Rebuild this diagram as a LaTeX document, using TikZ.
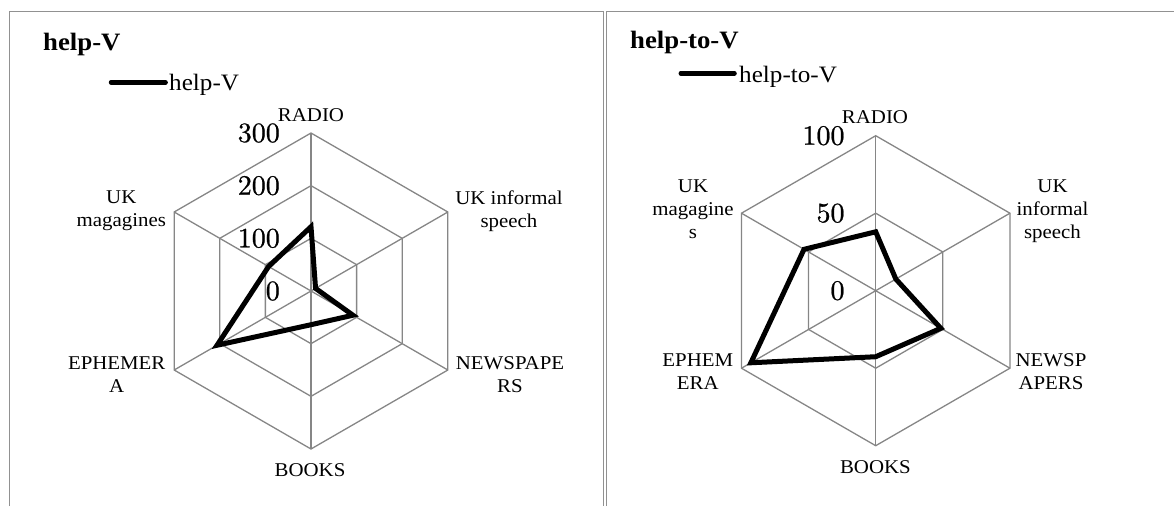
\documentclass[tikz,border=0pt]{standalone}
\usepackage{fontspec}
\newfontfamily\labfont{Liberation Serif}[FakeStretch=1.07]
\newfontfamily\numfont{lmroman10-regular.otf}[FakeBold=0.8]
\usetikzlibrary{positioning}
\definecolor{gridgray}{RGB}{134,134,134}
\definecolor{framegray}{RGB}{145,145,145}
\tikzset{
  frame/.style={draw=framegray,line width=1.6pt},
  ring/.style={draw=gridgray,line width=1.3pt},
  series/.style={draw=black,line width=5pt,line join=miter},
  legkey/.style={draw=black,line width=4.5pt,line cap=round},
  axlab/.style={font=\labfont\fontsize{19.5}{23}\selectfont,align=center,inner sep=0pt},
  ticklab/.style={font=\numfont\fontsize{28}{30}\selectfont,anchor=east,inner sep=0pt},
  charttitle/.style={font=\labfont\bfseries\fontsize{25}{28}\selectfont,anchor=base west,inner sep=0pt},
  legtext/.style={font=\labfont\fontsize{23.5}{26}\selectfont,anchor=base west,inner sep=0pt}
}

\begin{document}
\begin{tikzpicture}[x=1pt,y=-1pt]
\useasboundingbox (0,0) rectangle (1174,506);
% panel frames
\draw[frame] (9.5,506) -- (9.5,11.5) -- (603.5,11.5) -- (603.5,506);
\draw[frame] (606.5,506) -- (606.5,11.5) -- (1174,11.5);

% ---- help-V ----
\node[charttitle] (hvTitle) at (43,50) {help-V};
\coordinate (hvKeyA) at (111,82.3);
\coordinate (hvKeyB) at (165.6,82.3);
\draw[legkey] (hvKeyA) -- (hvKeyB);
\node[legtext] (hvLegend) at (169,90.2) {help-V};

\begin{scope}[shift={(311,291)},yscale=-1]
  \foreach \r in {52.67,105.33,158}
    \draw[ring] (90:\r) -- (30:\r) -- (-30:\r) -- (-90:\r) -- (210:\r) -- (150:\r) -- cycle;
  \foreach \a in {90,30,-30,-90,210,150}
    \draw[ring] (0,0) -- (\a:158);
  \node[ticklab] (hvT0) at (-31,0) {0};
  \node[ticklab] (hvT1) at (-31,52.67) {100};
  \node[ticklab] (hvT2) at (-31,105.33) {200};
  \node[ticklab] (hvT3) at (-31,158) {300};
  % data
  \coordinate (hvRadio) at (90:{122/300*158});
  \coordinate (hvSpeech) at (30:{10/300*158});
  \coordinate (hvNews) at (-30:{92/300*158});
  \coordinate (hvBooks) at (-90:{64/300*158});
  \coordinate (hvEphem) at (210:{206/300*158});
  \coordinate (hvMags) at (150:{93/300*158});
  \draw[series] (hvRadio) -- (hvSpeech) -- (hvNews) -- (hvBooks) -- (hvEphem) -- (hvMags) -- cycle;
\end{scope}

\node[axlab] (hvLRadio) at (311,115.5) {RADIO};
\node[axlab] (hvLSpeech) at (509,211) {UK informal\\speech};
\node[axlab] (hvLNews) at (510,374.4) {NEWSPAPE\\RS};
\node[axlab] (hvLBooks) at (310,470) {BOOKS};
\node[axlab] (hvLEphem) at (116.7,374.4) {EPHEMER\\A};
\node[axlab] (hvLMags) at (121.3,211.2) {UK\\magagines};

% ---- help-to-V ----
\node[charttitle] (htvTitle) at (630,48.5) {help-to-V};
\coordinate (htvKeyA) at (680.8,73.3);
\coordinate (htvKeyB) at (734.5,73.3);
\draw[legkey] (htvKeyA) -- (htvKeyB);
\node[legtext] (htvLegend) at (739,82) {help-to-V};

\begin{scope}[shift={(875.7,290.7)},yscale=-1]
  \foreach \r in {77.5,155}
    \draw[ring] (90:\r) -- (30:\r) -- (-30:\r) -- (-90:\r) -- (210:\r) -- (150:\r) -- cycle;
  \foreach \a in {90,30,-30,-90,210,150}
    \draw[ring] (0,0) -- (\a:155);
  \node[ticklab] (htvT0) at (-31,0) {0};
  \node[ticklab] (htvT1) at (-31,77.5) {50};
  \node[ticklab] (htvT2) at (-31,155) {100};
  % data
  \coordinate (htvRadio) at (90:{38*1.55});
  \coordinate (htvSpeech) at (30:{15*1.55});
  \coordinate (htvNews) at (-30:{48.5*1.55});
  \coordinate (htvBooks) at (-90:{42.6*1.55});
  \coordinate (htvEphem) at (210:{93*1.55});
  \coordinate (htvMags) at (150:{53.4*1.55});
  \draw[series] (htvRadio) -- (htvSpeech) -- (htvNews) -- (htvBooks) -- (htvEphem) -- (htvMags) -- cycle;
\end{scope}

\node[axlab] (htvLRadio) at (875,116.7) {RADIO};
\node[axlab] (htvLSpeech) at (1052.5,211.3) {UK\\informal\\speech};
\node[axlab] (htvLNews) at (1051,371.7) {NEWSP\\APERS};
\node[axlab] (htvLBooks) at (875.4,466.7) {BOOKS};
\node[axlab] (htvLEphem) at (697.8,371.7) {EPHEM\\ERA};
\node[axlab] (htvLMags) at (693,209.3) {UK\\magagine\\s};
\end{tikzpicture}
\end{document}
